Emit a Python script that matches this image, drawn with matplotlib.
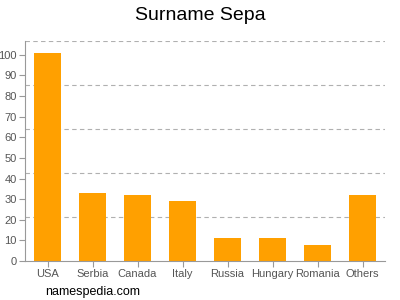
import matplotlib.pyplot as plt
import numpy as np

countries = ['USA', 'Serbia', 'Canada', 'Italy', 'Russia', 'Hungary', 'Romania', 'Others']
counts = [101, 33, 32, 29, 11, 11, 8, 32]
y_ticks = list(range(0, 101, 10))
y_top = 106.8


def plot_surname():
    plt.rcParams['font.family'] = ['Liberation Sans', 'DejaVu Sans']
    fig = plt.figure(figsize=(4, 3), dpi=100)
    ax = fig.add_axes([0.0625, 0.13, 0.9, 0.734])
    x = np.arange(len(countries))
    ax.bar(x, counts, width=0.62, color='#ffa000', zorder=2)
    ax.set_xlim(-0.5, len(countries) - 0.5)
    ax.set_ylim(0, y_top)
    ax.set_xticks(x)
    ax.set_xticklabels(countries)
    ax.set_yticks(y_ticks)
    for g in np.linspace(0, y_top, 6)[1:]:
        ax.axhline(g, color='#b0b0b0', linestyle=(0, (4, 3)), linewidth=0.8, zorder=1)
    for side in ['top', 'right']:
        ax.spines[side].set_visible(False)
    for side in ['left', 'bottom']:
        ax.spines[side].set_color('#999999')
    ax.tick_params(colors='#999999', labelcolor='#555555', labelsize=8, length=4, pad=2)
    fig.text(0.5, 0.95, 'Surname Sepa', ha='center', va='center', fontsize=14)
    fig.text(0.113, 0.027, 'namespedia.com', ha='left', va='center', fontsize=9)
    fig.savefig('out.png')


if __name__ == '__main__':
    plot_surname()
